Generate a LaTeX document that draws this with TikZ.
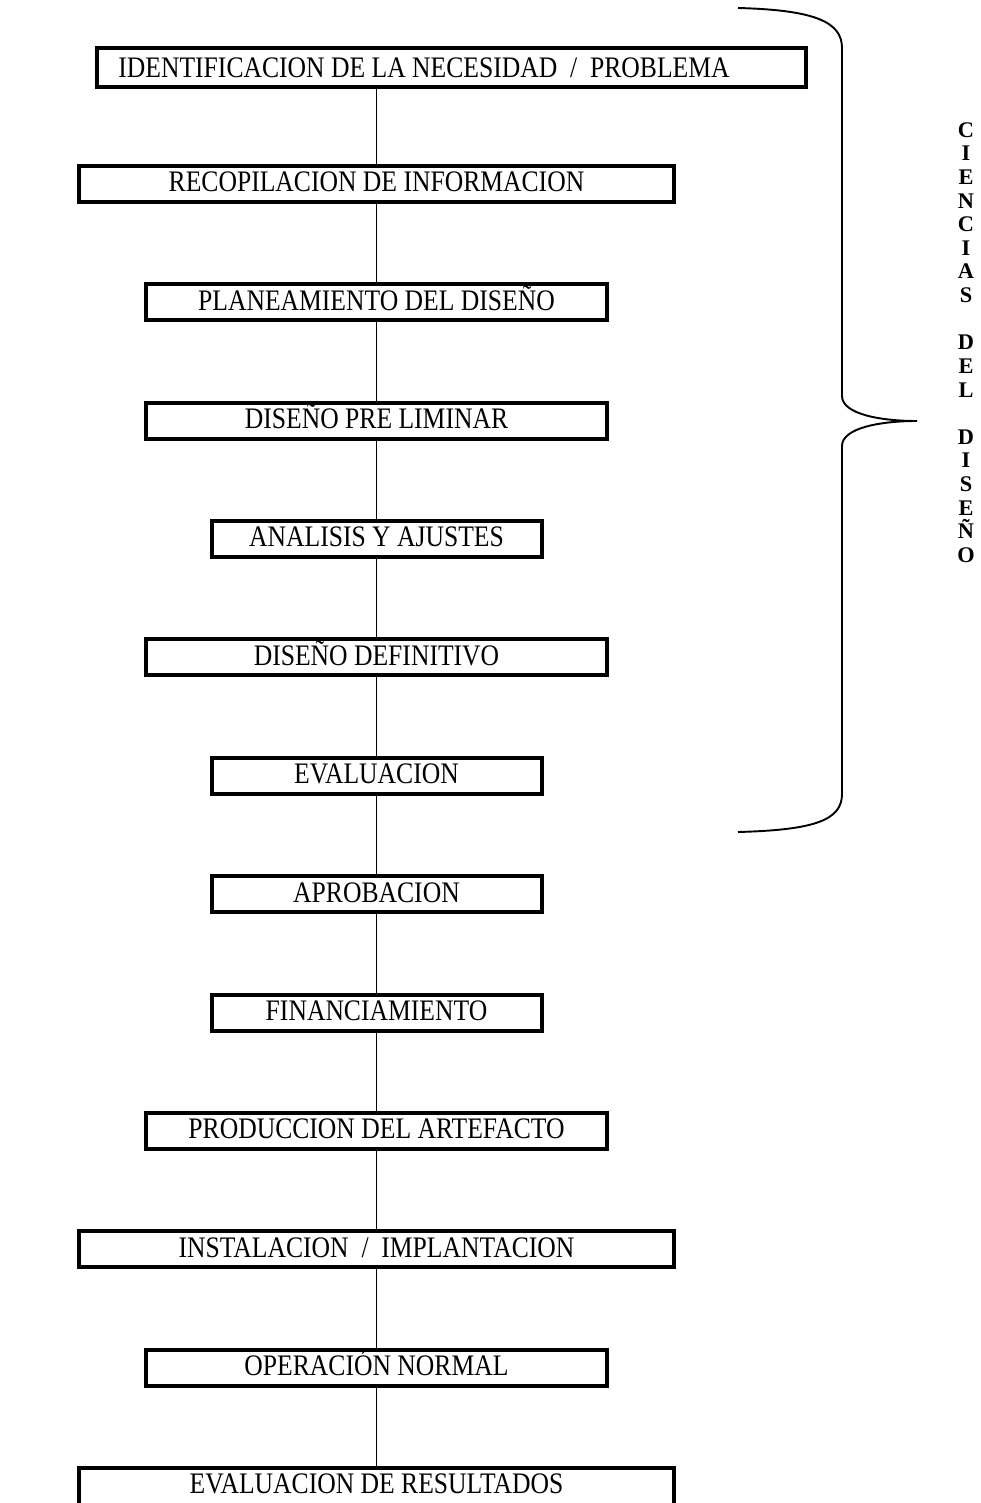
\documentclass[tikz,border=0pt]{standalone}
\usepackage{fontspec}
\setmainfont{Liberation Serif}[FakeStretch=0.86]
\newfontfamily\sidefont{Liberation Serif}
\usetikzlibrary{positioning}

\begin{document}
\begin{tikzpicture}[
        x=0.47pt, y=-0.47pt,
        node distance=36.85pt,
        every node/.style={align=center},
        stage/.style={rectangle, draw, line width=1.88pt, minimum height=16.9pt,
            inner sep=2pt, text height=9.6pt, text depth=2.2pt, font=\fontsize{14}{16}\selectfont},
        widebox/.style={stage, minimum width=279.7pt},
        midbox/.style={stage, minimum width=216.7pt},
        narrowbox/.style={stage, minimum width=155.1pt},
        link/.style={line width=0.75pt},
        bracket/.style={line width=0.9pt}
    ]

    \useasboundingbox (0,0) rectangle (980,1503);

    % Top box (wider, off centre)
    \node[stage, minimum width=333.2pt, minimum height=18.3pt] (need) at (451.5,67.5) {};
    \node[font=\fontsize{14}{16}\selectfont, inner sep=0pt] (needtext) at (424,68) {IDENTIFICACION DE LA NECESIDAD \ / \ PROBLEMA};

    % Main chain
    \node[widebox] (info) at (376.5,184) {RECOPILACION DE INFORMACION};
    \node[midbox, below=of info] (plan) {PLANEAMIENTO DEL DISEÑO};
    \node[midbox, below=of plan] (prelim) {DISEÑO PRE LIMINAR};
    \node[narrowbox, below=of prelim] (adjust) {ANALISIS Y AJUSTES};
    \node[midbox, below=of adjust] (final) {DISEÑO DEFINITIVO};
    \node[narrowbox, below=of final] (eval) {EVALUACION};
    \node[narrowbox, below=of eval] (approve) {APROBACION};
    \node[narrowbox, below=of approve] (fund) {FINANCIAMIENTO};
    \node[midbox, below=of fund] (build) {PRODUCCION DEL ARTEFACTO};
    \node[widebox, below=of build] (install) {INSTALACION \ / \ IMPLANTACION};
    \node[midbox, below=of install] (operate) {OPERACIÓN NORMAL};
    % last box runs off the page
    \node[widebox, below=of operate, minimum height=22pt, text depth=7.3pt] (results) {EVALUACION DE RESULTADOS};

    % Connecting lines
    \draw[link] (need.south -| info.north) -- (info.north);
    \draw[link] (info) -- (plan);
    \draw[link] (plan) -- (prelim);
    \draw[link] (prelim) -- (adjust);
    \draw[link] (adjust) -- (final);
    \draw[link] (final) -- (eval);
    \draw[link] (eval) -- (approve);
    \draw[link] (approve) -- (fund);
    \draw[link] (fund) -- (build);
    \draw[link] (build) -- (install);
    \draw[link] (install) -- (operate);
    \draw[link] (operate) -- (results);

    % Brace
    \coordinate (bracetop) at (738,8);
    \coordinate (bracetip) at (917,421);
    \coordinate (bracebot) at (738,832);
    \draw[bracket] (bracetop) .. controls (815,10) and (842,22) .. (842,48)
        -- (842,396) .. controls (842,414) and (880,421) .. (bracetip)
        .. controls (880,421) and (842,428) .. (842,446)
        -- (842,794) .. controls (842,820) and (815,830) .. (bracebot);

    % Side label
    \node[font=\sidefont\fontsize{10.5}{11.1}\selectfont\bfseries, inner sep=0pt] (side) at (966,342.5)
        {C\\I\\E\\N\\C\\I\\A\\S\\~\\D\\E\\L\\~\\D\\I\\S\\E\\Ñ\\O};

\end{tikzpicture}
\end{document}
